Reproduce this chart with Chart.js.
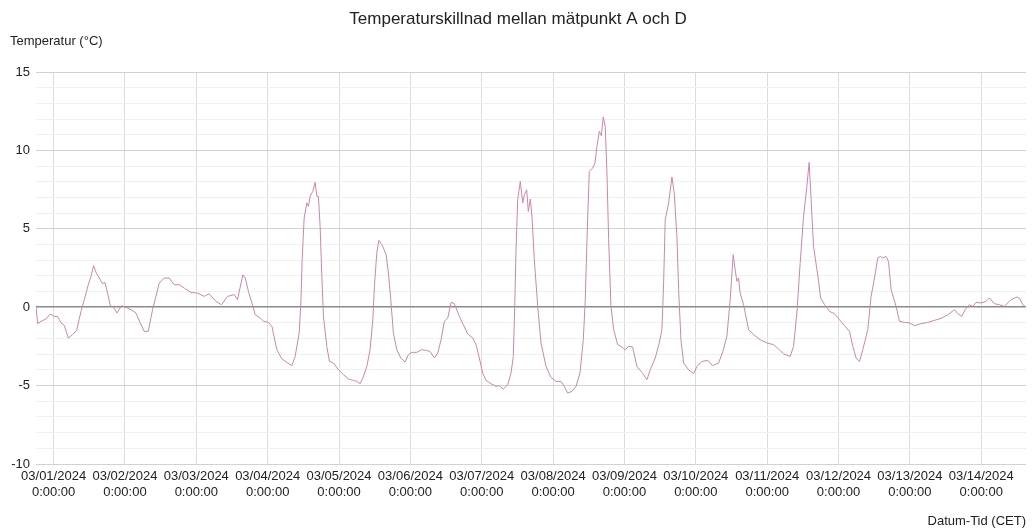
<!DOCTYPE html>
<html>
<head>
<meta charset="utf-8">
<title>Temperaturskillnad</title>
<script src="https://cdn.jsdelivr.net/npm/chart.js@4.4.1/dist/chart.umd.min.js"></script>
<style>
  body { margin: 0; background: #fff; }
  #chart { display: block; }
</style>
</head>
<body>
<canvas id="chart" width="1032" height="530"></canvas>
<script>
// hours since 03/01/2024 0:00:00 (CET)
const hours = [
  -5.92, -5.38, -4.24, -2.55, -1.11, 0.24, 1.34, 2.49, 3.6, 4.94, 6.39, 7.73, 9.21, 10.32,
  11.66, 12.57, 13.45, 14.35, 15.36, 16.47, 17.28, 18.15, 19.06, 20.17, 21.31, 22.86, 24.34,
  26.02, 27.7, 29.14, 30.49, 31.83, 33.28, 34.42, 35.53, 37.21, 38.89, 40.57, 42.25, 43.93,
  46.18, 48.4, 50.66, 52.34, 54.59, 56.47, 58.49, 60.74, 61.85, 63.66, 64.44, 65.55, 66.69,
  67.8, 69.48, 70.59, 72.27, 73.41, 75.09, 76.77, 78.45, 80.13, 81.24, 82.59, 83.16, 83.6,
  84.27, 85.18, 85.71, 86.28, 87.19, 87.97, 88.54, 89.07, 89.64, 90.22, 90.76, 91.9, 92.77,
  94.12, 95.8, 97.48, 99.16, 100.84, 101.98, 103.09, 104.0, 105.34, 106.45, 107.36, 107.9,
  108.7, 109.38, 110.39, 111.16, 111.83, 112.6, 113.41, 114.28, 115.43, 116.77, 118.22,
  119.33, 120.47, 122.15, 123.83, 125.51, 126.62, 128.07, 129.21, 130.32, 131.43, 132.57,
  133.68, 134.79, 136.47, 137.81, 139.29, 140.97, 142.08, 143.19, 144.33, 145.44, 147.12,
  148.8, 149.91, 151.26, 152.74, 153.85, 154.62, 155.09, 155.53, 156.1, 156.97, 157.78,
  158.32, 159.12, 159.66, 160.33, 160.9, 161.68, 162.82, 163.93, 165.61, 167.29, 168.97,
  170.65, 171.76, 172.9, 174.35, 175.69, 177.04, 178.15, 178.82, 179.39, 180.17, 181.31,
  182.08, 182.75, 183.53, 184.2, 184.87, 185.54, 186.11, 186.68, 187.46, 188.37, 189.71,
  190.82, 192.27, 193.41, 194.75, 196.2, 197.88, 199.56, 200.67, 202.35, 203.7, 204.6,
  205.17, 205.71, 206.86, 207.96, 208.74, 209.64, 210.22, 210.99, 211.9, 213.58, 215.26,
  216.37, 218.05, 220.07, 221.64, 223.66, 225.1, 226.45, 227.56, 228.57, 229.24, 229.81,
  230.38, 230.92, 232.06, 233.74, 235.42, 237.64, 239.9, 242.15, 243.83, 245.51, 247.73,
  248.87, 249.98, 251.09, 252.23, 253.34, 254.11, 254.78, 255.59, 257.27, 257.95, 259.29,
  260.97, 262.65, 264.33, 266.01, 267.69, 268.8, 269.91, 271.05, 272.16, 273.84, 274.95,
  276.09, 277.2, 278.11, 278.88, 279.99, 280.8, 281.68, 283.36, 284.5, 286.18, 287.86,
  289.54, 291.76, 294.01, 296.26, 298.48, 300.74, 302.99, 304.1, 305.44, 306.55, 308.03,
  309.14, 310.25, 311.92, 313.6, 314.74, 316.42, 318.1, 319.78, 322.0, 324.02, 325.03,
  325.94, 327.05
];

// temperature difference A - D (°C)
const diffs = [
  0.1, -1.05, -0.9, -0.75, -0.43, -0.59, -0.59, -1.0, -1.16, -1.97, -1.75, -1.48, -0.27, 0.48,
  1.43, 1.96, 2.65, 2.18, 1.86, 1.5, 1.58, 0.9, 0.11, -0.01, -0.37, 0.1, -0.01,
  -0.16, -0.37, -1.0, -1.54, -1.54, -0.16, 0.69, 1.54, 1.86, 1.86, 1.43, 1.43, 1.22,
  0.94, 0.9, 0.69, 0.86, 0.37, 0.16, 0.69, 0.8, 0.48, 2.07, 1.86, 1.0, 0.27,
  -0.48, -0.69, -0.9, -0.97, -1.22, -2.71, -3.3, -3.52, -3.73, -3.14, -1.65, 0.27, 3.03,
  5.69, 6.65, 6.43, 7.07, 7.39, 7.96, 7.07, 7.07, 5.15, 1.96, -0.59, -2.5, -3.46,
  -3.56, -3.99, -4.3, -4.58, -4.67, -4.73, -4.88, -4.52, -3.78, -2.71, -0.8, 1.33,
  3.46, 4.26, 3.99, 3.67, 3.35, 2.18, 0.48, -1.65, -2.71, -3.24, -3.5,
  -3.03, -2.88, -2.88, -2.71, -2.76, -2.82, -3.24, -2.92, -2.07, -0.9, -0.69,
  0.31, 0.22, -0.59, -1.12, -1.71, -1.96, -2.39, -3.24, -4.2, -4.67, -4.88,
  -5.05, -5.0, -5.22, -4.94, -4.2, -3.14, 0.05, 3.67, 6.86, 8.02, 6.65,
  7.17, 7.49, 6.11, 6.9, 5.79, 3.03, 0.05, -2.28, -3.78, -4.48, -4.73,
  -4.73, -5.05, -5.47, -5.37, -5.05, -4.2, -2.07, 0.48, 4.3, 8.66, 8.88,
  9.2, 10.26, 11.21, 10.94, 12.13, 11.53, 8.56, 4.3, 0.05, -1.43, -2.39,
  -2.5, -2.71, -2.5, -2.54, -3.78, -4.16, -4.62, -3.99, -3.24, -2.28, -1.43,
  1.54, 5.58, 6.65, 8.3, 7.28, 4.52, 1.12, -2.07, -3.56, -3.99, -4.24,
  -3.78, -3.46, -3.39, -3.73, -3.56, -2.82, -1.86, 0.48, 3.35, 2.39, 1.65,
  1.86, 0.9, 0.16, -1.43, -1.75, -2.07, -2.28, -2.39, -2.67, -2.97, -3.14,
  -2.5, -0.37, 2.79, 5.76, 7.7, 9.23, 6.86, 3.88, 1.7, 0.59, 0.16,
  -0.27, -0.41, -0.8, -1.18, -1.54, -2.5, -3.24, -3.46, -2.71, -1.43, 0.69,
  1.86, 3.14, 3.24, 3.14, 3.24, 2.92, 1.12, 0.05, -0.9, -0.97, -1.0,
  -1.18, -1.05, -0.97, -0.84, -0.71, -0.48, -0.16, -0.41, -0.59, -0.16, 0.16,
  0.05, 0.31, 0.27, 0.37, 0.59, 0.22, 0.16, 0.05, 0.48, 0.65, 0.52,
  0.16, 0.01
];

const yTicksMajor = [-10, -5, 0, 5, 10, 15];

function dayLabel(h) {
  const day = Math.round(h / 24) + 1;
  const dd = day < 10 ? "0" + day : "" + day;
  return ["03/" + dd + "/2024", "0:00:00"];
}

const points = hours.map((h, i) => ({ x: h, y: diffs[i] }));
const font = { family: "'Liberation Sans', Arial, sans-serif", size: 13 };

new Chart(document.getElementById("chart"), {
  type: "line",
  data: {
    datasets: [{
      label: "Skillnad A - D",
      data: points,
      borderColor: "#cc86ac",
      borderWidth: 1,
      pointRadius: 0,
      tension: 0
    }]
  },
  options: {
    responsive: false,
    animation: false,
    devicePixelRatio: 1,
    layout: { padding: { left: 10, right: 6, top: 0, bottom: 0 } },
    plugins: {
      legend: { display: false },
      tooltip: { enabled: false },
      title: {
        display: true,
        text: "Temperaturskillnad mellan mätpunkt A och D",
        color: "#222",
        font: { family: font.family, size: 17, weight: "normal" },
        padding: { top: 8.8, bottom: 2 }
      },
      subtitle: {
        display: true,
        text: "Temperatur (°C)",
        align: "start",
        color: "#222",
        font: font,
        padding: { top: 2, bottom: 23.2 }
      }
    },
    scales: {
      x: {
        type: "linear",
        min: hours[0],
        max: hours[hours.length - 1],
        afterFit: s => { s.height = 66; },
        border: { display: false },
        grid: { color: "#dcdcdc", drawTicks: false },
        ticks: {
          stepSize: 24,
          includeBounds: false,
          autoSkip: false,
          maxRotation: 0,
          padding: 5,
          color: "#222",
          font: font,
          callback: v => dayLabel(v)
        },
        title: {
          display: true,
          text: "Datum-Tid (CET)",
          align: "end",
          color: "#222",
          font: font,
          padding: { top: 0, bottom: 1.2 }
        }
      },
      y: {
        min: -10,
        max: 15,
        afterFit: s => { s.width = 26; },
        border: { display: false },
        grid: {
          drawTicks: false,
          color: c => c.tick.value === 0 ? "#8a8a8a" : (yTicksMajor.includes(c.tick.value) ? "#d2d2d2" : "#f0f0f0"),
          lineWidth: c => c.tick.value === 0 ? 1.6 : 1
        },
        ticks: {
          stepSize: 1,
          autoSkip: false,
          padding: 6,
          color: "#222",
          font: font,
          callback: v => yTicksMajor.includes(v) ? v : ""
        }
      }
    }
  }
});
</script>
</body>
</html>
